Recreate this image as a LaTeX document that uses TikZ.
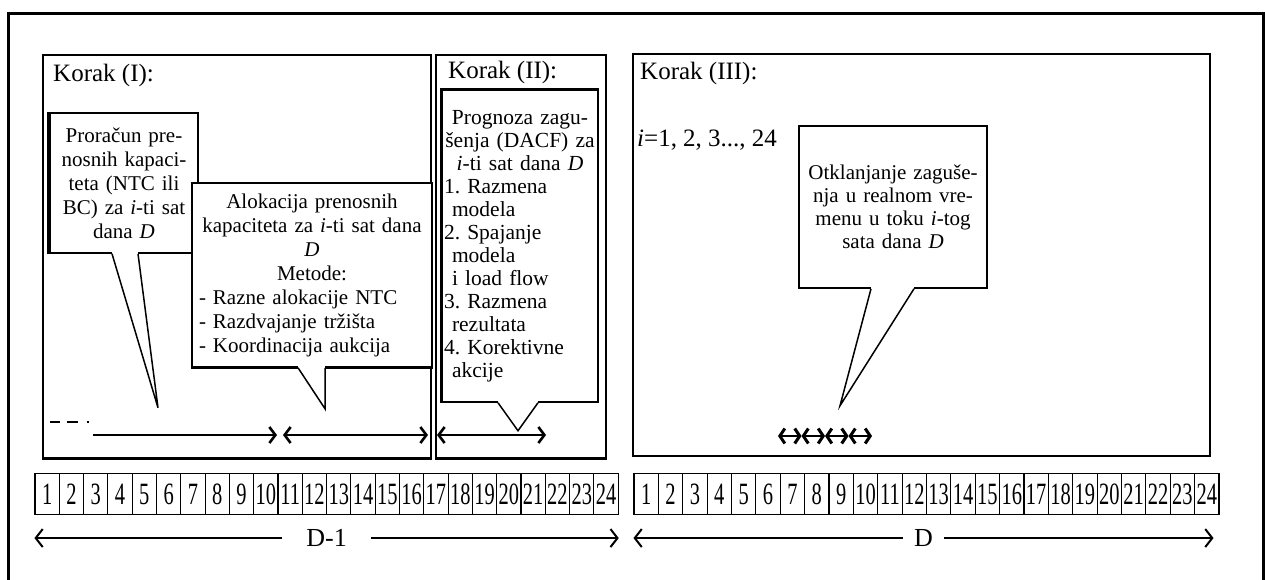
\documentclass[tikz,border=0pt]{standalone}
\usepackage{fontspec}
\setmainfont{Liberation Serif}
\newfontfamily\hourfont{Liberation Serif}[FakeStretch=0.66]
\usetikzlibrary{arrows.meta,calc,positioning}

\tikzset{
  stepbox/.style={draw, line width=1.5, inner sep=0, anchor=north west},
  steptitle/.style={anchor=west, inner sep=0, font=\fontsize{25}{28}\selectfont},
  balloon/.style={draw, fill=white, line width=1.5, inner sep=0, font=\fontsize{21}{24}\selectfont\frenchspacing},
  hourcell/.style={draw, line width=1.1, minimum width=24.3, minimum height=41, inner sep=0, font=\hourfont\fontsize{31}{34}\selectfont},
  span/.style={line width=1.4, >={Straight Barb[length=7pt,width=18pt,line width=2pt]}},
  hourspan/.style={line width=1.6, >={Straight Barb[length=6pt,width=16pt,line width=2.6pt]}},
  tinyspan/.style={line width=1.6, >={Straight Barb[length=5pt,width=15pt,line width=3pt]}},
  tail/.style={line width=1.6}
}

\begin{document}
\begin{tikzpicture}[x=1pt, y=-1pt]
\useasboundingbox (0,0) rectangle (1265,579);
\clip (0,0) rectangle (1265,579);

% outer frame, its bottom runs off the page
\draw[line width=3] (8,13) rectangle (1263,600);

% the three steps
\node[stepbox, minimum width=388, minimum height=403] (k1) at (42,54) {};
\node[stepbox, minimum width=170, minimum height=403] (k2) at (435,54) {};
\node[stepbox, minimum width=577, minimum height=402] (k3) at (632,53) {};
\draw[line width=3] (k1.south west) -- (k1.south east);
\draw[line width=3] (k2.south west) -- (k2.south east);

\node[steptitle] (t1) at (53,75) {Korak (I):};
\node[steptitle] (t2) at (448,72) {Korak (II):};
\node[steptitle] (t3) at (640,73) {Korak (III):};
\node[steptitle] (irange) at (637,140) {\textit{i}=1, 2, 3..., 24};

% step I: capacity calculation
\node[balloon, minimum width=148, minimum height=140, text width=140, align=center] (calc) at (124,183)
  {Proračun pre-\\nosnih kapaci-\\teta (NTC ili\\BC) za \textit{i}-ti sat\\dana \textit{D}};
\draw[line width=4] (calc.north west) -- (calc.south west);
\fill[white] ($(calc.south)+(-12,-1.5)$) rectangle ($(calc.south)+(14,1.5)$);
\draw[line width=1.5] ($(calc.south)+(-12,0)$) -- ($(calc.south)+(34,154)$) -- ($(calc.south)+(14,0)$);

% step I: allocation
\node[balloon, minimum width=240, minimum height=184, text width=226, align=left] (alloc) at (312,275)
  {\centering Alokacija prenosnih\\kapaciteta za \textit{i}-ti sat dana\\\textit{D}\\Metode:\par
   \raggedright - Razne alokacije NTC\\- Razdvajanje tržišta\\- Koordinacija aukcija};
\draw[line width=3] (alloc.south west) -- (alloc.south east);
\fill[white] ($(alloc.south)+(-14,-2)$) rectangle ($(alloc.south)+(13,2)$);
\draw[line width=1.5] ($(alloc.south)+(-14,0)$) -- ($(alloc.south)+(13,41)$) -- ($(alloc.south)+(13,0)$);

% step II: congestion forecast
\node[balloon, font=\fontsize{21.5}{23}\selectfont\frenchspacing, minimum width=156, minimum height=312, text width=152, align=left] (dacf) at (520,246)
  {\centering Prognoza zagu-\\šenja (DACF) za\\\textit{i}-ti sat dana \textit{D}\par
   \raggedright 1. Razmena\\\hspace*{8pt}modela\\2. Spajanje\\\hspace*{8pt}modela\\\hspace*{8pt}i load flow\\3. Razmena\\\hspace*{8pt}rezultata\\4. Korektivne\\\hspace*{8pt}akcije};
\draw[line width=3.5] (dacf.south west) -- (dacf.north west) -- (dacf.north east);
\fill[white] ($(dacf.south)+(-22,-1.5)$) rectangle ($(dacf.south)+(18,1.5)$);
\draw[line width=1.5] ($(dacf.south)+(-22,0)$) -- ($(dacf.south)+(-2,28)$) -- ($(dacf.south)+(18,0)$);

% step III: real time
\node[balloon, font=\fontsize{21}{23}\selectfont\frenchspacing, minimum width=188, minimum height=162, text width=180, align=center] (rt) at (893,207)
  {Otklanjanje zaguše-\\nja u realnom vre-\\menu u toku \textit{i}-tog\\sata dana \textit{D}};
\fill[white] ($(rt.south)+(-22,-1.5)$) rectangle ($(rt.south)+(21,1.5)$);
\draw[line width=1.5] ($(rt.south)+(-22,0)$) -- ($(rt.south)+(-53,117)$) -- ($(rt.south)+(21,0)$);

% time spans inside the steps
\coordinate (prev0) at (50,422);
\coordinate (prev1) at (90,422);
\coordinate (a0) at (93,435);
\coordinate (a1) at (277,435);
\coordinate (a2) at (283,435);
\coordinate (a3) at (428,435);
\coordinate (b0) at (437,435);
\coordinate (b1) at (546,435);
\draw[tail, dash pattern=on 10pt off 7pt on 11pt off 9pt on 2pt off 4pt] (prev0) -- (prev1);
\draw[hourspan, ->] (a0) -- (a1);
\draw[hourspan, <->] (a2) -- (a3);
\draw[hourspan, <->] (b0) -- (b1);

\foreach \k in {0,...,4}
  \coordinate (r\k) at ({778+\k*23.5},436);
\foreach \k [evaluate=\k as \n using int(\k+1)] in {0,...,3}
  \draw[tinyspan, <->] (r\k) -- (r\n);

% hours of day D-1 and day D
\foreach \i in {1,...,24} {
  \node[hourcell] (p\i) at ({35+(\i-0.5)*24.3},494) {\i};
  \node[hourcell] (d\i) at ({634+(\i-0.5)*24.375},494) {\i};
}

\coordinate (pl) at ($(p1.south west)+(0,23)$);
\coordinate (pr) at ($(p24.south east)+(0,23)$);
\coordinate (dl) at ($(d1.south west)+(0,23)$);
\coordinate (dr) at ($(d24.south east)+(-6,23)$);
\draw[span, <->] (pl) -- (pr) node[midway, fill=white, inner xsep=24, inner ysep=2, font=\fontsize{26}{28}\selectfont] (dayprev) {D-1};
\draw[span, <->] (dl) -- (dr) node[midway, fill=white, inner xsep=11, inner ysep=2, font=\fontsize{26}{28}\selectfont] (day) {D};
\end{tikzpicture}
\end{document}
